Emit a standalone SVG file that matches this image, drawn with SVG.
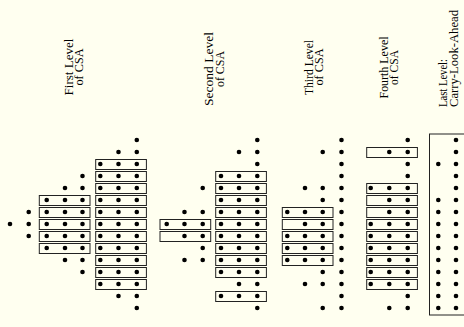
<svg xmlns="http://www.w3.org/2000/svg" width="464" height="327" viewBox="0 0 464 327">
<style>
.bg{fill:#FFFFF0}
.d{fill:#000}
.b{fill:none;stroke:#222;stroke-width:1}
.t{font-family:"Liberation Serif","DejaVu Serif",serif;font-size:13px;fill:#000}
</style>
<defs>
<circle id="dot" r="2.3" class="d"/>
<rect id="bx" width="50.7" height="10" class="b"/>
</defs>
<rect class="bg" x="0" y="0" width="464" height="327"/>

<g id="labels">
<g id="label1">
<text class="t" text-anchor="middle" transform="translate(72.5,67) rotate(-90)" textLength="57" lengthAdjust="spacingAndGlyphs">First Level</text>
<text class="t" text-anchor="middle" transform="translate(83,67) rotate(-90)" textLength="37" lengthAdjust="spacingAndGlyphs">of CSA</text>
</g>
<g id="label2">
<text class="t" text-anchor="middle" transform="translate(213,69) rotate(-90)" textLength="74" lengthAdjust="spacingAndGlyphs">Second Level</text>
<text class="t" text-anchor="middle" transform="translate(223.5,69) rotate(-90)" textLength="36" lengthAdjust="spacingAndGlyphs">of CSA</text>
</g>
<g id="label3">
<text class="t" text-anchor="middle" transform="translate(312.5,67.5) rotate(-90)" textLength="55" lengthAdjust="spacingAndGlyphs">Third Level</text>
<text class="t" text-anchor="middle" transform="translate(323,67) rotate(-90)" textLength="37" lengthAdjust="spacingAndGlyphs">of CSA</text>
</g>
<g id="label4">
<text class="t" text-anchor="middle" transform="translate(387.5,67.5) rotate(-90)" textLength="62" lengthAdjust="spacingAndGlyphs">Fourth Level</text>
<text class="t" text-anchor="middle" transform="translate(398.3,67.5) rotate(-90)" textLength="35" lengthAdjust="spacingAndGlyphs">of CSA</text>
</g>
<g id="label5">
<text class="t" text-anchor="start" transform="translate(447.3,107) rotate(-90)" textLength="48" lengthAdjust="spacingAndGlyphs">Last Level:</text>
<text class="t" text-anchor="start" transform="translate(457.5,107) rotate(-90)" textLength="97" lengthAdjust="spacingAndGlyphs">Carry-Look-Ahead</text>
</g>
</g>

<g id="stage1">
<!-- boxes right (c5-c7) rows 2..12 -->
<use href="#bx" x="95.7" y="159.5"/>
<use href="#bx" x="95.7" y="171.5"/>
<use href="#bx" x="95.7" y="183.5"/>
<use href="#bx" x="95.7" y="195.5"/>
<use href="#bx" x="95.7" y="207.5"/>
<use href="#bx" x="95.7" y="219.5"/>
<use href="#bx" x="95.7" y="231.5"/>
<use href="#bx" x="95.7" y="243.5"/>
<use href="#bx" x="95.7" y="255.5"/>
<use href="#bx" x="95.7" y="267.5"/>
<use href="#bx" x="95.7" y="279.5"/>
<!-- boxes left (c2-c4) rows 5..9 -->
<use href="#bx" x="39.3" y="195.5"/>
<use href="#bx" x="39.3" y="207.5"/>
<use href="#bx" x="39.3" y="219.5"/>
<use href="#bx" x="39.3" y="231.5"/>
<use href="#bx" x="39.3" y="243.5"/>
<!-- dots -->
<use href="#dot" x="136.8" y="140"/>
<use href="#dot" x="118.5" y="152"/><use href="#dot" x="136.8" y="152"/>
<use href="#dot" x="100.3" y="164"/><use href="#dot" x="118.5" y="164"/><use href="#dot" x="136.8" y="164"/>
<use href="#dot" x="82.5" y="176"/><use href="#dot" x="100.3" y="176"/><use href="#dot" x="118.5" y="176"/><use href="#dot" x="136.8" y="176"/>
<use href="#dot" x="65" y="188"/><use href="#dot" x="82.5" y="188"/><use href="#dot" x="100.3" y="188"/><use href="#dot" x="118.5" y="188"/><use href="#dot" x="136.8" y="188"/>
<use href="#dot" x="46.7" y="200"/><use href="#dot" x="65" y="200"/><use href="#dot" x="82.5" y="200"/><use href="#dot" x="100.3" y="200"/><use href="#dot" x="118.5" y="200"/><use href="#dot" x="136.8" y="200"/>
<use href="#dot" x="28.7" y="212"/><use href="#dot" x="46.7" y="212"/><use href="#dot" x="65" y="212"/><use href="#dot" x="82.5" y="212"/><use href="#dot" x="100.3" y="212"/><use href="#dot" x="118.5" y="212"/><use href="#dot" x="136.8" y="212"/>
<use href="#dot" x="10" y="224"/><use href="#dot" x="28.7" y="224"/><use href="#dot" x="46.7" y="224"/><use href="#dot" x="65" y="224"/><use href="#dot" x="82.5" y="224"/><use href="#dot" x="100.3" y="224"/><use href="#dot" x="118.5" y="224"/><use href="#dot" x="136.8" y="224"/>
<use href="#dot" x="28.7" y="236"/><use href="#dot" x="46.7" y="236"/><use href="#dot" x="65" y="236"/><use href="#dot" x="82.5" y="236"/><use href="#dot" x="100.3" y="236"/><use href="#dot" x="118.5" y="236"/><use href="#dot" x="136.8" y="236"/>
<use href="#dot" x="46.7" y="248"/><use href="#dot" x="65" y="248"/><use href="#dot" x="82.5" y="248"/><use href="#dot" x="100.3" y="248"/><use href="#dot" x="118.5" y="248"/><use href="#dot" x="136.8" y="248"/>
<use href="#dot" x="65" y="260"/><use href="#dot" x="82.5" y="260"/><use href="#dot" x="100.3" y="260"/><use href="#dot" x="118.5" y="260"/><use href="#dot" x="136.8" y="260"/>
<use href="#dot" x="82.5" y="272"/><use href="#dot" x="100.3" y="272"/><use href="#dot" x="118.5" y="272"/><use href="#dot" x="136.8" y="272"/>
<use href="#dot" x="100.3" y="284"/><use href="#dot" x="118.5" y="284"/><use href="#dot" x="136.8" y="284"/>
<use href="#dot" x="118.5" y="296"/><use href="#dot" x="136.8" y="296"/>
<use href="#dot" x="136.8" y="308"/>
</g>

<g id="stage2">
<!-- right boxes (d3-d5) rows 3..11, 13 -->
<use href="#bx" x="215.7" y="171.5"/>
<use href="#bx" x="215.7" y="183.5"/>
<use href="#bx" x="215.7" y="195.5"/>
<use href="#bx" x="215.7" y="207.5"/>
<use href="#bx" x="215.7" y="219.5"/>
<use href="#bx" x="215.7" y="231.5"/>
<use href="#bx" x="215.7" y="243.5"/>
<use href="#bx" x="215.7" y="255.5"/>
<use href="#bx" x="215.7" y="267.5"/>
<use href="#bx" x="215.7" y="291.5"/>
<!-- left boxes (d0-d2) rows 7, 8 -->
<use href="#bx" x="160" y="219.5"/>
<use href="#bx" x="160" y="231.5"/>
<!-- dots -->
<use href="#dot" x="257.3" y="140"/>
<use href="#dot" x="239" y="152"/><use href="#dot" x="257.3" y="152"/>
<use href="#dot" x="257.3" y="164"/>
<use href="#dot" x="221" y="176"/><use href="#dot" x="239" y="176"/><use href="#dot" x="257.3" y="176"/>
<use href="#dot" x="202.7" y="188"/><use href="#dot" x="221" y="188"/><use href="#dot" x="239" y="188"/><use href="#dot" x="257.3" y="188"/>
<use href="#dot" x="221" y="200"/><use href="#dot" x="239" y="200"/><use href="#dot" x="257.3" y="200"/>
<use href="#dot" x="184.5" y="212"/><use href="#dot" x="202.7" y="212"/><use href="#dot" x="221" y="212"/><use href="#dot" x="239" y="212"/><use href="#dot" x="257.3" y="212"/>
<use href="#dot" x="166.7" y="224"/><use href="#dot" x="184.5" y="224"/><use href="#dot" x="202.7" y="224"/><use href="#dot" x="221" y="224"/><use href="#dot" x="239" y="224"/><use href="#dot" x="257.3" y="224"/>
<use href="#dot" x="184.5" y="236"/><use href="#dot" x="202.7" y="236"/><use href="#dot" x="221" y="236"/><use href="#dot" x="239" y="236"/><use href="#dot" x="257.3" y="236"/>
<use href="#dot" x="202.7" y="248"/><use href="#dot" x="221" y="248"/><use href="#dot" x="239" y="248"/><use href="#dot" x="257.3" y="248"/>
<use href="#dot" x="184.5" y="260"/><use href="#dot" x="202.7" y="260"/><use href="#dot" x="221" y="260"/><use href="#dot" x="239" y="260"/><use href="#dot" x="257.3" y="260"/>
<use href="#dot" x="221" y="272"/><use href="#dot" x="239" y="272"/><use href="#dot" x="257.3" y="272"/>
<use href="#dot" x="239" y="284"/><use href="#dot" x="257.3" y="284"/>
<use href="#dot" x="221" y="296"/><use href="#dot" x="239" y="296"/><use href="#dot" x="257.3" y="296"/>
<use href="#dot" x="257.3" y="308"/>
</g>

<g id="stage3">
<use href="#bx" x="282.3" y="207.5"/>
<use href="#bx" x="282.3" y="219.5"/>
<use href="#bx" x="282.3" y="231.5"/>
<use href="#bx" x="282.3" y="243.5"/>
<use href="#bx" x="282.3" y="255.5"/>
<use href="#dot" x="341.5" y="140"/>
<use href="#dot" x="322.7" y="152"/><use href="#dot" x="341.5" y="152"/>
<use href="#dot" x="341.5" y="164"/>
<use href="#dot" x="341.5" y="176"/>
<use href="#dot" x="305" y="188"/><use href="#dot" x="322.7" y="188"/><use href="#dot" x="341.5" y="188"/>
<use href="#dot" x="322.7" y="200"/><use href="#dot" x="341.5" y="200"/>
<use href="#dot" x="287.3" y="212"/><use href="#dot" x="305" y="212"/><use href="#dot" x="322.7" y="212"/><use href="#dot" x="341.5" y="212"/>
<use href="#dot" x="305" y="224"/><use href="#dot" x="322.7" y="224"/><use href="#dot" x="341.5" y="224"/>
<use href="#dot" x="287.3" y="236"/><use href="#dot" x="305" y="236"/><use href="#dot" x="322.7" y="236"/><use href="#dot" x="341.5" y="236"/>
<use href="#dot" x="287.3" y="248"/><use href="#dot" x="305" y="248"/><use href="#dot" x="322.7" y="248"/><use href="#dot" x="341.5" y="248"/>
<use href="#dot" x="287.3" y="260"/><use href="#dot" x="305" y="260"/><use href="#dot" x="322.7" y="260"/><use href="#dot" x="341.5" y="260"/>
<use href="#dot" x="322.7" y="272"/><use href="#dot" x="341.5" y="272"/>
<use href="#dot" x="305" y="284"/><use href="#dot" x="322.7" y="284"/><use href="#dot" x="341.5" y="284"/>
<use href="#dot" x="341.5" y="296"/>
<use href="#dot" x="322.7" y="308"/><use href="#dot" x="341.5" y="308"/>
</g>

<g id="stage4">
<use href="#bx" x="366.7" y="147.5"/>
<use href="#bx" x="366.7" y="183.5"/>
<use href="#bx" x="366.7" y="195.5"/>
<use href="#bx" x="366.7" y="207.5"/>
<use href="#bx" x="366.7" y="219.5"/>
<use href="#bx" x="366.7" y="231.5"/>
<use href="#bx" x="366.7" y="243.5"/>
<use href="#bx" x="366.7" y="255.5"/>
<use href="#bx" x="366.7" y="267.5"/>
<use href="#bx" x="366.7" y="279.5"/>
<use href="#dot" x="407.7" y="140"/>
<use href="#dot" x="389.3" y="152"/><use href="#dot" x="407.7" y="152"/>
<use href="#dot" x="407.7" y="164"/>
<use href="#dot" x="407.7" y="176"/>
<use href="#dot" x="370.7" y="188"/><use href="#dot" x="389.3" y="188"/><use href="#dot" x="407.7" y="188"/>
<use href="#dot" x="389.3" y="200"/><use href="#dot" x="407.7" y="200"/>
<use href="#dot" x="389.3" y="212"/><use href="#dot" x="407.7" y="212"/>
<use href="#dot" x="370.7" y="224"/><use href="#dot" x="389.3" y="224"/><use href="#dot" x="407.7" y="224"/>
<use href="#dot" x="370.7" y="236"/><use href="#dot" x="389.3" y="236"/><use href="#dot" x="407.7" y="236"/>
<use href="#dot" x="370.7" y="248"/><use href="#dot" x="389.3" y="248"/><use href="#dot" x="407.7" y="248"/>
<use href="#dot" x="370.7" y="260"/><use href="#dot" x="389.3" y="260"/><use href="#dot" x="407.7" y="260"/>
<use href="#dot" x="370.7" y="272"/><use href="#dot" x="389.3" y="272"/><use href="#dot" x="407.7" y="272"/>
<use href="#dot" x="370.7" y="284"/><use href="#dot" x="389.3" y="284"/><use href="#dot" x="407.7" y="284"/>
<use href="#dot" x="407.7" y="296"/>
<use href="#dot" x="389.3" y="308"/><use href="#dot" x="407.7" y="308"/>
</g>

<g id="stage5">
<rect class="b" x="429.5" y="134" width="40" height="181"/>
<use href="#dot" x="456" y="140"/>
<use href="#dot" x="456" y="152"/>
<use href="#dot" x="438.3" y="164"/><use href="#dot" x="456" y="164"/>
<use href="#dot" x="456" y="176"/>
<use href="#dot" x="456" y="188"/>
<use href="#dot" x="438.3" y="200"/><use href="#dot" x="456" y="200"/>
<use href="#dot" x="438.3" y="212"/><use href="#dot" x="456" y="212"/>
<use href="#dot" x="438.3" y="224"/><use href="#dot" x="456" y="224"/>
<use href="#dot" x="438.3" y="236"/><use href="#dot" x="456" y="236"/>
<use href="#dot" x="438.3" y="248"/><use href="#dot" x="456" y="248"/>
<use href="#dot" x="438.3" y="260"/><use href="#dot" x="456" y="260"/>
<use href="#dot" x="438.3" y="272"/><use href="#dot" x="456" y="272"/>
<use href="#dot" x="438.3" y="284"/><use href="#dot" x="456" y="284"/>
<use href="#dot" x="438.3" y="296"/><use href="#dot" x="456" y="296"/>
<use href="#dot" x="438.3" y="308"/><use href="#dot" x="456" y="308"/>
</g>
</svg>
